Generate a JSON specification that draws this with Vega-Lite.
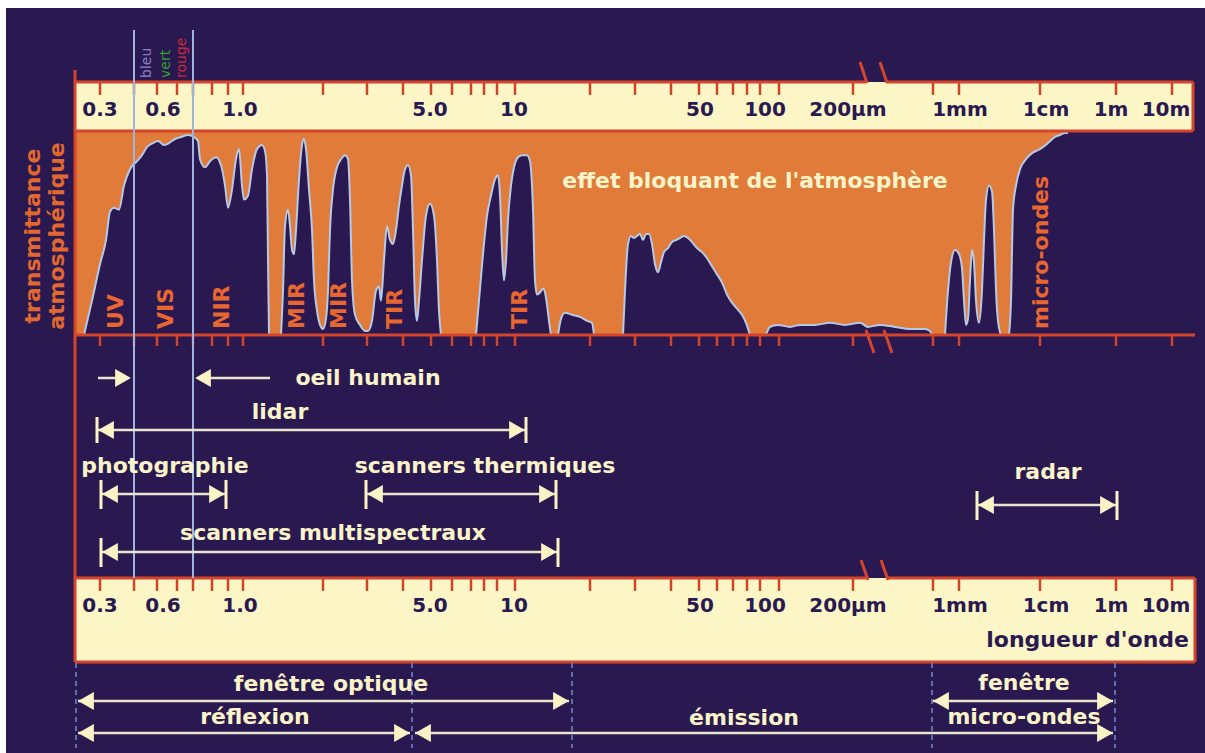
{
  "$schema": "https://vega.github.io/schema/vega-lite/v6.json",
  "width": 1205,
  "height": 753,
  "autosize": {"type": "fit", "contains": "padding"},
  "padding": 0,
  "background": "#ffffff",
  "config": {"view": {"stroke": null}},
  "resolve": {"scale": {"y": "independent"}},
  "datasets": {
    "fonds": [
      {"zone": "cadre", "pos": 6, "pos2": 1205, "h": 8, "h2": 753},
      {"zone": "barre", "pos": 75, "pos2": 1193, "h": 82, "h2": 131},
      {"zone": "bande", "pos": 75, "pos2": 1064, "h": 131, "h2": 335},
      {"zone": "barre", "pos": 75, "pos2": 1195, "h": 578, "h2": 662}
    ],
    "transmittance": [
      {"seg": 1, "pos": 84, "pct": 0}, {"seg": 1, "pos": 92, "pct": 17}, {"seg": 1, "pos": 100, "pct": 35}, {"seg": 1, "pos": 106, "pct": 47},
      {"seg": 1, "pos": 110, "pct": 61}, {"seg": 1, "pos": 114, "pct": 63}, {"seg": 1, "pos": 119, "pct": 62}, {"seg": 1, "pos": 124, "pct": 74},
      {"seg": 1, "pos": 130, "pct": 82}, {"seg": 1, "pos": 137, "pct": 86}, {"seg": 1, "pos": 142, "pct": 89}, {"seg": 1, "pos": 147, "pct": 93},
      {"seg": 1, "pos": 153, "pct": 95}, {"seg": 1, "pos": 158, "pct": 96}, {"seg": 1, "pos": 164, "pct": 94}, {"seg": 1, "pos": 169, "pct": 95},
      {"seg": 1, "pos": 175, "pct": 97}, {"seg": 1, "pos": 181, "pct": 98}, {"seg": 1, "pos": 188, "pct": 99}, {"seg": 1, "pos": 194, "pct": 98},
      {"seg": 1, "pos": 198, "pct": 96}, {"seg": 1, "pos": 200, "pct": 87}, {"seg": 1, "pos": 205, "pct": 83}, {"seg": 1, "pos": 210, "pct": 86},
      {"seg": 1, "pos": 216, "pct": 88}, {"seg": 1, "pos": 221, "pct": 84}, {"seg": 1, "pos": 225, "pct": 74}, {"seg": 1, "pos": 228, "pct": 63},
      {"seg": 1, "pos": 232, "pct": 72}, {"seg": 1, "pos": 236, "pct": 87}, {"seg": 1, "pos": 239, "pct": 92}, {"seg": 1, "pos": 242, "pct": 74},
      {"seg": 1, "pos": 244, "pct": 67}, {"seg": 1, "pos": 248, "pct": 69}, {"seg": 1, "pos": 252, "pct": 82}, {"seg": 1, "pos": 257, "pct": 92},
      {"seg": 1, "pos": 262, "pct": 94}, {"seg": 1, "pos": 265, "pct": 91}, {"seg": 1, "pos": 267, "pct": 79}, {"seg": 1, "pos": 268, "pct": 37},
      {"seg": 1, "pos": 269, "pct": 0},
      {"seg": 2, "pos": 281, "pct": 0}, {"seg": 2, "pos": 283, "pct": 22}, {"seg": 2, "pos": 285, "pct": 54}, {"seg": 2, "pos": 288, "pct": 62},
      {"seg": 2, "pos": 290, "pct": 54}, {"seg": 2, "pos": 292, "pct": 42}, {"seg": 2, "pos": 294, "pct": 40}, {"seg": 2, "pos": 296, "pct": 52},
      {"seg": 2, "pos": 299, "pct": 77}, {"seg": 2, "pos": 302, "pct": 94}, {"seg": 2, "pos": 304, "pct": 97}, {"seg": 2, "pos": 306, "pct": 92},
      {"seg": 2, "pos": 309, "pct": 72}, {"seg": 2, "pos": 312, "pct": 52}, {"seg": 2, "pos": 314, "pct": 27}, {"seg": 2, "pos": 317, "pct": 12},
      {"seg": 2, "pos": 320, "pct": 5}, {"seg": 2, "pos": 323, "pct": 3}, {"seg": 2, "pos": 326, "pct": 8}, {"seg": 2, "pos": 328, "pct": 22},
      {"seg": 2, "pos": 330, "pct": 52}, {"seg": 2, "pos": 333, "pct": 72}, {"seg": 2, "pos": 337, "pct": 83}, {"seg": 2, "pos": 341, "pct": 87},
      {"seg": 2, "pos": 345, "pct": 89}, {"seg": 2, "pos": 348, "pct": 87}, {"seg": 2, "pos": 350, "pct": 67}, {"seg": 2, "pos": 352, "pct": 27},
      {"seg": 2, "pos": 355, "pct": 10}, {"seg": 2, "pos": 360, "pct": 5}, {"seg": 2, "pos": 365, "pct": 2}, {"seg": 2, "pos": 368, "pct": 2},
      {"seg": 2, "pos": 372, "pct": 7}, {"seg": 2, "pos": 376, "pct": 22}, {"seg": 2, "pos": 379, "pct": 24}, {"seg": 2, "pos": 381, "pct": 17},
      {"seg": 2, "pos": 384, "pct": 37}, {"seg": 2, "pos": 387, "pct": 54}, {"seg": 2, "pos": 390, "pct": 47}, {"seg": 2, "pos": 393, "pct": 45},
      {"seg": 2, "pos": 396, "pct": 52}, {"seg": 2, "pos": 399, "pct": 64}, {"seg": 2, "pos": 402, "pct": 74}, {"seg": 2, "pos": 405, "pct": 82},
      {"seg": 2, "pos": 408, "pct": 84}, {"seg": 2, "pos": 411, "pct": 79}, {"seg": 2, "pos": 413, "pct": 52}, {"seg": 2, "pos": 415, "pct": 17},
      {"seg": 2, "pos": 417, "pct": 7}, {"seg": 2, "pos": 419, "pct": 17}, {"seg": 2, "pos": 422, "pct": 37}, {"seg": 2, "pos": 426, "pct": 59},
      {"seg": 2, "pos": 430, "pct": 65}, {"seg": 2, "pos": 434, "pct": 59}, {"seg": 2, "pos": 437, "pct": 37}, {"seg": 2, "pos": 439, "pct": 12},
      {"seg": 2, "pos": 441, "pct": 0},
      {"seg": 3, "pos": 476, "pct": 0}, {"seg": 3, "pos": 479, "pct": 17}, {"seg": 3, "pos": 483, "pct": 40}, {"seg": 3, "pos": 487, "pct": 59},
      {"seg": 3, "pos": 491, "pct": 69}, {"seg": 3, "pos": 495, "pct": 77}, {"seg": 3, "pos": 498, "pct": 79}, {"seg": 3, "pos": 500, "pct": 69},
      {"seg": 3, "pos": 502, "pct": 42}, {"seg": 3, "pos": 504, "pct": 27}, {"seg": 3, "pos": 506, "pct": 37}, {"seg": 3, "pos": 508, "pct": 57},
      {"seg": 3, "pos": 511, "pct": 74}, {"seg": 3, "pos": 514, "pct": 83}, {"seg": 3, "pos": 518, "pct": 88}, {"seg": 3, "pos": 522, "pct": 89},
      {"seg": 3, "pos": 527, "pct": 89}, {"seg": 3, "pos": 530, "pct": 86}, {"seg": 3, "pos": 533, "pct": 62}, {"seg": 3, "pos": 535, "pct": 27},
      {"seg": 3, "pos": 537, "pct": 20}, {"seg": 3, "pos": 540, "pct": 21}, {"seg": 3, "pos": 543, "pct": 23}, {"seg": 3, "pos": 545, "pct": 21},
      {"seg": 3, "pos": 547, "pct": 15}, {"seg": 3, "pos": 549, "pct": 7}, {"seg": 3, "pos": 551, "pct": 0},
      {"seg": 4, "pos": 558, "pct": 0}, {"seg": 4, "pos": 561, "pct": 8}, {"seg": 4, "pos": 565, "pct": 11}, {"seg": 4, "pos": 572, "pct": 10},
      {"seg": 4, "pos": 580, "pct": 9}, {"seg": 4, "pos": 587, "pct": 7}, {"seg": 4, "pos": 592, "pct": 6}, {"seg": 4, "pos": 594, "pct": 0},
      {"seg": 5, "pos": 623, "pct": 0}, {"seg": 5, "pos": 625, "pct": 22}, {"seg": 5, "pos": 628, "pct": 45}, {"seg": 5, "pos": 631, "pct": 49},
      {"seg": 5, "pos": 634, "pct": 48}, {"seg": 5, "pos": 637, "pct": 49}, {"seg": 5, "pos": 640, "pct": 50}, {"seg": 5, "pos": 643, "pct": 47},
      {"seg": 5, "pos": 646, "pct": 50}, {"seg": 5, "pos": 649, "pct": 50}, {"seg": 5, "pos": 652, "pct": 45}, {"seg": 5, "pos": 655, "pct": 35},
      {"seg": 5, "pos": 658, "pct": 31}, {"seg": 5, "pos": 661, "pct": 36}, {"seg": 5, "pos": 664, "pct": 41}, {"seg": 5, "pos": 668, "pct": 43},
      {"seg": 5, "pos": 672, "pct": 46}, {"seg": 5, "pos": 676, "pct": 47}, {"seg": 5, "pos": 680, "pct": 48}, {"seg": 5, "pos": 684, "pct": 49},
      {"seg": 5, "pos": 688, "pct": 48}, {"seg": 5, "pos": 692, "pct": 46}, {"seg": 5, "pos": 697, "pct": 43}, {"seg": 5, "pos": 702, "pct": 41},
      {"seg": 5, "pos": 707, "pct": 38}, {"seg": 5, "pos": 712, "pct": 34}, {"seg": 5, "pos": 717, "pct": 30}, {"seg": 5, "pos": 722, "pct": 26},
      {"seg": 5, "pos": 727, "pct": 20}, {"seg": 5, "pos": 732, "pct": 16}, {"seg": 5, "pos": 737, "pct": 13}, {"seg": 5, "pos": 742, "pct": 10},
      {"seg": 5, "pos": 746, "pct": 6}, {"seg": 5, "pos": 750, "pct": 0},
      {"seg": 6, "pos": 766, "pct": 0}, {"seg": 6, "pos": 770, "pct": 4}, {"seg": 6, "pos": 778, "pct": 5}, {"seg": 6, "pos": 790, "pct": 4},
      {"seg": 6, "pos": 800, "pct": 5}, {"seg": 6, "pos": 815, "pct": 5}, {"seg": 6, "pos": 830, "pct": 6}, {"seg": 6, "pos": 845, "pct": 5},
      {"seg": 6, "pos": 860, "pct": 6}, {"seg": 6, "pos": 868, "pct": 4}, {"seg": 6, "pos": 880, "pct": 5}, {"seg": 6, "pos": 895, "pct": 4},
      {"seg": 6, "pos": 910, "pct": 3}, {"seg": 6, "pos": 925, "pct": 3}, {"seg": 6, "pos": 930, "pct": 2}, {"seg": 6, "pos": 932, "pct": 0},
      {"seg": 7, "pos": 945, "pct": 0}, {"seg": 7, "pos": 948, "pct": 22}, {"seg": 7, "pos": 951, "pct": 36}, {"seg": 7, "pos": 955, "pct": 42},
      {"seg": 7, "pos": 959, "pct": 40}, {"seg": 7, "pos": 962, "pct": 33}, {"seg": 7, "pos": 964, "pct": 17}, {"seg": 7, "pos": 966, "pct": 5},
      {"seg": 7, "pos": 968, "pct": 8}, {"seg": 7, "pos": 970, "pct": 27}, {"seg": 7, "pos": 972, "pct": 42}, {"seg": 7, "pos": 974, "pct": 36},
      {"seg": 7, "pos": 976, "pct": 17}, {"seg": 7, "pos": 979, "pct": 6}, {"seg": 7, "pos": 982, "pct": 22}, {"seg": 7, "pos": 984, "pct": 47},
      {"seg": 7, "pos": 986, "pct": 67}, {"seg": 7, "pos": 989, "pct": 74}, {"seg": 7, "pos": 992, "pct": 71}, {"seg": 7, "pos": 994, "pct": 52},
      {"seg": 7, "pos": 996, "pct": 22}, {"seg": 7, "pos": 998, "pct": 7}, {"seg": 7, "pos": 1001, "pct": 0},
      {"seg": 8, "pos": 1009, "pct": 0}, {"seg": 8, "pos": 1011, "pct": 17}, {"seg": 8, "pos": 1013, "pct": 62}, {"seg": 8, "pos": 1016, "pct": 74},
      {"seg": 8, "pos": 1020, "pct": 82}, {"seg": 8, "pos": 1026, "pct": 87}, {"seg": 8, "pos": 1032, "pct": 90}, {"seg": 8, "pos": 1040, "pct": 92},
      {"seg": 8, "pos": 1048, "pct": 95}, {"seg": 8, "pos": 1055, "pct": 98}, {"seg": 8, "pos": 1060, "pct": 99}, {"seg": 8, "pos": 1065, "pct": 100},
      {"seg": 8, "pos": 1068, "pct": 100}
    ],
    "traits": [
      {"type": "bord", "pos": 75, "pos2": 866, "h": 82, "h2": 82},
      {"type": "bord", "pos": 887, "pos2": 1193, "h": 82, "h2": 82},
      {"type": "bord", "pos": 75, "pos2": 1193, "h": 131, "h2": 131},
      {"type": "bord", "pos": 1193, "pos2": 1193, "h": 82, "h2": 131},
      {"type": "bord", "pos": 75, "pos2": 75, "h": 70, "h2": 662},
      {"type": "bord", "pos": 75, "pos2": 1195, "h": 335, "h2": 335},
      {"type": "bord", "pos": 75, "pos2": 866, "h": 578, "h2": 578},
      {"type": "bord", "pos": 887, "pos2": 1195, "h": 578, "h2": 578},
      {"type": "bord", "pos": 75, "pos2": 1195, "h": 662, "h2": 662},
      {"type": "bord", "pos": 1195, "pos2": 1195, "h": 578, "h2": 662},
      {"type": "coupure", "pos": 860, "pos2": 867, "h": 62, "h2": 83},
      {"type": "coupure", "pos": 880, "pos2": 887, "h": 62, "h2": 83},
      {"type": "coupure", "pos": 866, "pos2": 874, "h": 330, "h2": 353},
      {"type": "coupure", "pos": 884, "pos2": 892, "h": 330, "h2": 353},
      {"type": "coupure", "pos": 861, "pos2": 868, "h": 560, "h2": 580},
      {"type": "coupure", "pos": 881, "pos2": 888, "h": 560, "h2": 580}
    ],
    "graduations": [
      {"pos": 100}, {"pos": 134}, {"pos": 157}, {"pos": 177}, {"pos": 193}, {"pos": 212}, {"pos": 228}, {"pos": 243},
      {"pos": 323}, {"pos": 367}, {"pos": 403}, {"pos": 431}, {"pos": 452}, {"pos": 471}, {"pos": 484}, {"pos": 497},
      {"pos": 515}, {"pos": 590}, {"pos": 635}, {"pos": 671}, {"pos": 699}, {"pos": 717}, {"pos": 733}, {"pos": 747},
      {"pos": 760}, {"pos": 779}, {"pos": 853}, {"pos": 933}, {"pos": 959}, {"pos": 1040}, {"pos": 1116}, {"pos": 1172}
    ],
    "reperes": [
      {"type": "visible", "pos": 134, "h": 30, "h2": 578},
      {"type": "visible", "pos": 193, "h": 30, "h2": 578},
      {"type": "fenetre", "pos": 76, "h": 663, "h2": 748},
      {"type": "fenetre", "pos": 412, "h": 663, "h2": 748},
      {"type": "fenetre", "pos": 572, "h": 663, "h2": 748},
      {"type": "fenetre", "pos": 932, "h": 663, "h2": 748},
      {"type": "fenetre", "pos": 1115, "h": 663, "h2": 748}
    ],
    "fleches": [
      {"partie": "tige", "pos": 98, "pos2": 124, "h": 378, "h2": 378},
      {"partie": "tige", "pos": 200, "pos2": 270, "h": 378, "h2": 378},
      {"partie": "tige", "pos": 97, "pos2": 526, "h": 430, "h2": 430},
      {"partie": "tige", "pos": 101, "pos2": 226, "h": 494, "h2": 494},
      {"partie": "tige", "pos": 366, "pos2": 556, "h": 494, "h2": 494},
      {"partie": "tige", "pos": 101, "pos2": 558, "h": 552, "h2": 552},
      {"partie": "tige", "pos": 977, "pos2": 1117, "h": 505, "h2": 505},
      {"partie": "tige", "pos": 78, "pos2": 569, "h": 701, "h2": 701},
      {"partie": "tige", "pos": 78, "pos2": 410, "h": 733, "h2": 733},
      {"partie": "tige", "pos": 415, "pos2": 1113, "h": 733, "h2": 733},
      {"partie": "tige", "pos": 933, "pos2": 1113, "h": 701, "h2": 701},
      {"partie": "barre", "pos": 97, "pos2": 97, "h": 417, "h2": 443},
      {"partie": "barre", "pos": 526, "pos2": 526, "h": 417, "h2": 443},
      {"partie": "barre", "pos": 101, "pos2": 101, "h": 480, "h2": 509},
      {"partie": "barre", "pos": 226, "pos2": 226, "h": 480, "h2": 509},
      {"partie": "barre", "pos": 366, "pos2": 366, "h": 480, "h2": 509},
      {"partie": "barre", "pos": 556, "pos2": 556, "h": 480, "h2": 509},
      {"partie": "barre", "pos": 101, "pos2": 101, "h": 538, "h2": 567},
      {"partie": "barre", "pos": 558, "pos2": 558, "h": 538, "h2": 567},
      {"partie": "barre", "pos": 977, "pos2": 977, "h": 491, "h2": 520},
      {"partie": "barre", "pos": 1117, "pos2": 1117, "h": 491, "h2": 520},
      {"partie": "droite", "pos": 131, "h": 378},
      {"partie": "droite", "pos": 525, "h": 430},
      {"partie": "droite", "pos": 225, "h": 494},
      {"partie": "droite", "pos": 555, "h": 494},
      {"partie": "droite", "pos": 557, "h": 552},
      {"partie": "droite", "pos": 1116, "h": 505},
      {"partie": "droite", "pos": 569, "h": 701},
      {"partie": "droite", "pos": 410, "h": 733},
      {"partie": "droite", "pos": 1113, "h": 733},
      {"partie": "droite", "pos": 1113, "h": 701},
      {"partie": "gauche", "pos": 195, "h": 378},
      {"partie": "gauche", "pos": 98, "h": 430},
      {"partie": "gauche", "pos": 102, "h": 494},
      {"partie": "gauche", "pos": 367, "h": 494},
      {"partie": "gauche", "pos": 102, "h": 552},
      {"partie": "gauche", "pos": 978, "h": 505},
      {"partie": "gauche", "pos": 78, "h": 701},
      {"partie": "gauche", "pos": 78, "h": 733},
      {"partie": "gauche", "pos": 415, "h": 733},
      {"partie": "gauche", "pos": 933, "h": 701}
    ],
    "textes": [
      {"g": "echelle", "texte": "0.3", "pos": 100, "h": 110},
      {"g": "echelle", "texte": "0.6", "pos": 163, "h": 110},
      {"g": "echelle", "texte": "1.0", "pos": 240, "h": 110},
      {"g": "echelle", "texte": "5.0", "pos": 430, "h": 110},
      {"g": "echelle", "texte": "10", "pos": 514, "h": 110},
      {"g": "echelle", "texte": "50", "pos": 700, "h": 110},
      {"g": "echelle", "texte": "100", "pos": 765, "h": 110},
      {"g": "echelle", "texte": "200µm", "pos": 848, "h": 110},
      {"g": "echelle", "texte": "1mm", "pos": 960, "h": 110},
      {"g": "echelle", "texte": "1cm", "pos": 1046, "h": 110},
      {"g": "echelle", "texte": "1m", "pos": 1111, "h": 110},
      {"g": "echelle", "texte": "10m", "pos": 1166, "h": 110},
      {"g": "echelle", "texte": "0.3", "pos": 100, "h": 606},
      {"g": "echelle", "texte": "0.6", "pos": 163, "h": 606},
      {"g": "echelle", "texte": "1.0", "pos": 240, "h": 606},
      {"g": "echelle", "texte": "5.0", "pos": 430, "h": 606},
      {"g": "echelle", "texte": "10", "pos": 514, "h": 606},
      {"g": "echelle", "texte": "50", "pos": 700, "h": 606},
      {"g": "echelle", "texte": "100", "pos": 765, "h": 606},
      {"g": "echelle", "texte": "200µm", "pos": 848, "h": 606},
      {"g": "echelle", "texte": "1mm", "pos": 960, "h": 606},
      {"g": "echelle", "texte": "1cm", "pos": 1046, "h": 606},
      {"g": "echelle", "texte": "1m", "pos": 1111, "h": 606},
      {"g": "echelle", "texte": "10m", "pos": 1166, "h": 606},
      {"g": "unite", "texte": "longueur d'onde", "pos": 1189, "h": 640},
      {"g": "titre", "texte": "effet bloquant de l'atmosphère", "pos": 755, "h": 181},
      {"g": "titre", "texte": "oeil humain", "pos": 368, "h": 378},
      {"g": "titre", "texte": "lidar", "pos": 280, "h": 412},
      {"g": "titre", "texte": "photographie", "pos": 165, "h": 466},
      {"g": "titre", "texte": "scanners thermiques", "pos": 485, "h": 466},
      {"g": "titre", "texte": "scanners multispectraux", "pos": 333, "h": 533},
      {"g": "titre", "texte": "radar", "pos": 1048, "h": 472},
      {"g": "titre", "texte": "fenêtre optique", "pos": 331, "h": 684},
      {"g": "titre", "texte": "réflexion", "pos": 255, "h": 717},
      {"g": "titre", "texte": "émission", "pos": 744, "h": 718},
      {"g": "titre", "texte": "fenêtre", "pos": 1024, "h": 683},
      {"g": "titre", "texte": "micro-ondes", "pos": 1024, "h": 717},
      {"g": "bande", "texte": "UV", "pos": 116, "h": 329},
      {"g": "bande", "texte": "VIS", "pos": 166, "h": 329},
      {"g": "bande", "texte": "NIR", "pos": 222, "h": 329},
      {"g": "bande", "texte": "MIR", "pos": 297, "h": 329},
      {"g": "bande", "texte": "MIR", "pos": 339, "h": 329},
      {"g": "bande", "texte": "TIR", "pos": 395, "h": 329},
      {"g": "bande", "texte": "TIR", "pos": 520, "h": 329},
      {"g": "bande", "texte": "micro-ondes", "pos": 1041, "h": 329},
      {"g": "axe", "texte": "transmittance", "pos": 33, "h": 236},
      {"g": "axe", "texte": "atmosphérique", "pos": 57, "h": 236},
      {"g": "bleu", "texte": "bleu", "pos": 147, "h": 78},
      {"g": "vert", "texte": "vert", "pos": 166, "h": 78},
      {"g": "rouge", "texte": "rouge", "pos": 182, "h": 78}
    ]
  },
  "layer": [
    {
      "data": {"name": "fonds"},
      "mark": {"type": "rect"},
      "encoding": {
        "x": {"field": "pos", "type": "quantitative", "scale": {"domain": [0, 1205], "nice": false, "zero": false}, "axis": null},
        "x2": {"field": "pos2"},
        "y": {"field": "h", "type": "quantitative", "scale": {"domain": [0, 753], "reverse": true, "nice": false, "zero": false}, "axis": null},
        "y2": {"field": "h2"},
        "color": {"field": "zone", "type": "nominal", "scale": {"domain": ["cadre", "barre", "bande"], "range": ["#2a1850", "#fcf6c6", "#e07b3a"]}, "legend": null}
      }
    },
    {
      "data": {"name": "transmittance"},
      "mark": {"type": "area", "color": "#2a1850", "interpolate": "monotone", "opacity": 1},
      "encoding": {
        "x": {"field": "pos", "type": "quantitative", "scale": {"domain": [0, 1205], "nice": false, "zero": false}, "axis": null},
        "y": {"field": "pct", "type": "quantitative", "scale": {"domain": [-206.9, 165.8], "nice": false, "zero": false}, "axis": null},
        "y2": {"datum": 0},
        "detail": {"field": "seg", "type": "nominal"}
      }
    },
    {
      "data": {"name": "transmittance"},
      "mark": {"type": "line", "color": "#b5c9e9", "strokeWidth": 2, "interpolate": "monotone"},
      "encoding": {
        "x": {"field": "pos", "type": "quantitative", "scale": {"domain": [0, 1205], "nice": false, "zero": false}, "axis": null},
        "y": {"field": "pct", "type": "quantitative", "scale": {"domain": [-206.9, 165.8], "nice": false, "zero": false}, "axis": null},
        "detail": {"field": "seg", "type": "nominal"}
      }
    },
    {
      "data": {"name": "traits"},
      "mark": {"type": "rule", "color": "#d5452b", "strokeWidth": 3},
      "encoding": {
        "x": {"field": "pos", "type": "quantitative", "scale": {"domain": [0, 1205], "nice": false, "zero": false}, "axis": null},
        "x2": {"field": "pos2"},
        "y": {"field": "h", "type": "quantitative", "scale": {"domain": [0, 753], "reverse": true, "nice": false, "zero": false}, "axis": null},
        "y2": {"field": "h2"}
      }
    },
    {
      "data": {"name": "graduations"},
      "mark": {"type": "rule", "color": "#d0442a", "strokeWidth": 2.5},
      "encoding": {
        "x": {"field": "pos", "type": "quantitative", "scale": {"domain": [0, 1205], "nice": false, "zero": false}, "axis": null},
        "y": {"datum": 83, "type": "quantitative", "scale": {"domain": [0, 753], "reverse": true, "nice": false, "zero": false}, "axis": null},
        "y2": {"datum": 95}
      }
    },
    {
      "data": {"name": "graduations"},
      "mark": {"type": "rule", "color": "#d0442a", "strokeWidth": 2.5},
      "encoding": {
        "x": {"field": "pos", "type": "quantitative", "scale": {"domain": [0, 1205], "nice": false, "zero": false}, "axis": null},
        "y": {"datum": 335, "type": "quantitative", "scale": {"domain": [0, 753], "reverse": true, "nice": false, "zero": false}, "axis": null},
        "y2": {"datum": 346}
      }
    },
    {
      "data": {"name": "graduations"},
      "mark": {"type": "rule", "color": "#d0442a", "strokeWidth": 2.5},
      "encoding": {
        "x": {"field": "pos", "type": "quantitative", "scale": {"domain": [0, 1205], "nice": false, "zero": false}, "axis": null},
        "y": {"datum": 579, "type": "quantitative", "scale": {"domain": [0, 753], "reverse": true, "nice": false, "zero": false}, "axis": null},
        "y2": {"datum": 591}
      }
    },
    {
      "data": {"name": "reperes"},
      "transform": [{"filter": "datum.type == 'visible'"}],
      "mark": {"type": "rule", "color": "#9fb4de", "strokeWidth": 2},
      "encoding": {
        "x": {"field": "pos", "type": "quantitative", "scale": {"domain": [0, 1205], "nice": false, "zero": false}, "axis": null},
        "y": {"field": "h", "type": "quantitative", "scale": {"domain": [0, 753], "reverse": true, "nice": false, "zero": false}, "axis": null},
        "y2": {"field": "h2"}
      }
    },
    {
      "data": {"name": "reperes"},
      "transform": [{"filter": "datum.type == 'fenetre'"}],
      "mark": {"type": "rule", "color": "#6d8dd2", "strokeWidth": 1.5, "strokeDash": [5, 4]},
      "encoding": {
        "x": {"field": "pos", "type": "quantitative", "scale": {"domain": [0, 1205], "nice": false, "zero": false}, "axis": null},
        "y": {"field": "h", "type": "quantitative", "scale": {"domain": [0, 753], "reverse": true, "nice": false, "zero": false}, "axis": null},
        "y2": {"field": "h2"}
      }
    },
    {
      "data": {"name": "fleches"},
      "transform": [{"filter": "datum.partie == 'tige'"}],
      "mark": {"type": "rule", "color": "#e9e4cc", "strokeWidth": 2.5},
      "encoding": {
        "x": {"field": "pos", "type": "quantitative", "scale": {"domain": [0, 1205], "nice": false, "zero": false}, "axis": null},
        "x2": {"field": "pos2"},
        "y": {"field": "h", "type": "quantitative", "scale": {"domain": [0, 753], "reverse": true, "nice": false, "zero": false}, "axis": null},
        "y2": {"field": "h2"}
      }
    },
    {
      "data": {"name": "fleches"},
      "transform": [{"filter": "datum.partie == 'barre'"}],
      "mark": {"type": "rule", "color": "#fbf3c6", "strokeWidth": 3},
      "encoding": {
        "x": {"field": "pos", "type": "quantitative", "scale": {"domain": [0, 1205], "nice": false, "zero": false}, "axis": null},
        "y": {"field": "h", "type": "quantitative", "scale": {"domain": [0, 753], "reverse": true, "nice": false, "zero": false}, "axis": null},
        "y2": {"field": "h2"}
      }
    },
    {
      "data": {"name": "fleches"},
      "transform": [{"filter": "datum.partie == 'droite'"}],
      "mark": {"type": "point", "shape": "triangle-right", "filled": true, "opacity": 1, "color": "#fbf3c6", "size": 330, "xOffset": -8},
      "encoding": {
        "x": {"field": "pos", "type": "quantitative", "scale": {"domain": [0, 1205], "nice": false, "zero": false}, "axis": null},
        "y": {"field": "h", "type": "quantitative", "scale": {"domain": [0, 753], "reverse": true, "nice": false, "zero": false}, "axis": null}
      }
    },
    {
      "data": {"name": "fleches"},
      "transform": [{"filter": "datum.partie == 'gauche'"}],
      "mark": {"type": "point", "shape": "triangle-left", "filled": true, "opacity": 1, "color": "#fbf3c6", "size": 330, "xOffset": 8},
      "encoding": {
        "x": {"field": "pos", "type": "quantitative", "scale": {"domain": [0, 1205], "nice": false, "zero": false}, "axis": null},
        "y": {"field": "h", "type": "quantitative", "scale": {"domain": [0, 753], "reverse": true, "nice": false, "zero": false}, "axis": null}
      }
    },
    {
      "data": {"name": "textes"},
      "transform": [{"filter": "datum.g == 'echelle'"}],
      "mark": {"type": "text", "font": "DejaVu Sans", "fontWeight": "bold", "fontSize": 20, "color": "#2a1850", "align": "center", "baseline": "middle"},
      "encoding": {
        "x": {"field": "pos", "type": "quantitative", "scale": {"domain": [0, 1205], "nice": false, "zero": false}, "axis": null},
        "y": {"field": "h", "type": "quantitative", "scale": {"domain": [0, 753], "reverse": true, "nice": false, "zero": false}, "axis": null},
        "text": {"field": "texte"}
      }
    },
    {
      "data": {"name": "textes"},
      "transform": [{"filter": "datum.g == 'unite'"}],
      "mark": {"type": "text", "font": "DejaVu Sans", "fontWeight": "bold", "fontSize": 22, "color": "#2a1850", "align": "right", "baseline": "middle"},
      "encoding": {
        "x": {"field": "pos", "type": "quantitative", "scale": {"domain": [0, 1205], "nice": false, "zero": false}, "axis": null},
        "y": {"field": "h", "type": "quantitative", "scale": {"domain": [0, 753], "reverse": true, "nice": false, "zero": false}, "axis": null},
        "text": {"field": "texte"}
      }
    },
    {
      "data": {"name": "textes"},
      "transform": [{"filter": "datum.g == 'titre'"}],
      "mark": {"type": "text", "font": "DejaVu Sans", "fontWeight": "bold", "fontSize": 22, "color": "#fbf4c8", "align": "center", "baseline": "middle"},
      "encoding": {
        "x": {"field": "pos", "type": "quantitative", "scale": {"domain": [0, 1205], "nice": false, "zero": false}, "axis": null},
        "y": {"field": "h", "type": "quantitative", "scale": {"domain": [0, 753], "reverse": true, "nice": false, "zero": false}, "axis": null},
        "text": {"field": "texte"}
      }
    },
    {
      "data": {"name": "textes"},
      "transform": [{"filter": "datum.g == 'bande'"}],
      "mark": {"type": "text", "font": "DejaVu Sans", "fontWeight": "bold", "fontSize": 22, "color": "#e8662f", "align": "left", "baseline": "middle", "angle": 270},
      "encoding": {
        "x": {"field": "pos", "type": "quantitative", "scale": {"domain": [0, 1205], "nice": false, "zero": false}, "axis": null},
        "y": {"field": "h", "type": "quantitative", "scale": {"domain": [0, 753], "reverse": true, "nice": false, "zero": false}, "axis": null},
        "text": {"field": "texte"}
      }
    },
    {
      "data": {"name": "textes"},
      "transform": [{"filter": "datum.g == 'axe'"}],
      "mark": {"type": "text", "font": "DejaVu Sans", "fontWeight": "bold", "fontSize": 22, "color": "#e2682f", "align": "center", "baseline": "middle", "angle": 270},
      "encoding": {
        "x": {"field": "pos", "type": "quantitative", "scale": {"domain": [0, 1205], "nice": false, "zero": false}, "axis": null},
        "y": {"field": "h", "type": "quantitative", "scale": {"domain": [0, 753], "reverse": true, "nice": false, "zero": false}, "axis": null},
        "text": {"field": "texte"}
      }
    },
    {
      "data": {"name": "textes"},
      "transform": [{"filter": "datum.g == 'bleu'"}],
      "mark": {"type": "text", "font": "DejaVu Sans", "fontSize": 14, "color": "#8884c2", "align": "left", "baseline": "middle", "angle": 270},
      "encoding": {
        "x": {"field": "pos", "type": "quantitative", "scale": {"domain": [0, 1205], "nice": false, "zero": false}, "axis": null},
        "y": {"field": "h", "type": "quantitative", "scale": {"domain": [0, 753], "reverse": true, "nice": false, "zero": false}, "axis": null},
        "text": {"field": "texte"}
      }
    },
    {
      "data": {"name": "textes"},
      "transform": [{"filter": "datum.g == 'vert'"}],
      "mark": {"type": "text", "font": "DejaVu Sans", "fontSize": 14, "color": "#33a02c", "align": "left", "baseline": "middle", "angle": 270},
      "encoding": {
        "x": {"field": "pos", "type": "quantitative", "scale": {"domain": [0, 1205], "nice": false, "zero": false}, "axis": null},
        "y": {"field": "h", "type": "quantitative", "scale": {"domain": [0, 753], "reverse": true, "nice": false, "zero": false}, "axis": null},
        "text": {"field": "texte"}
      }
    },
    {
      "data": {"name": "textes"},
      "transform": [{"filter": "datum.g == 'rouge'"}],
      "mark": {"type": "text", "font": "DejaVu Sans", "fontSize": 14, "color": "#c82a3e", "align": "left", "baseline": "middle", "angle": 270},
      "encoding": {
        "x": {"field": "pos", "type": "quantitative", "scale": {"domain": [0, 1205], "nice": false, "zero": false}, "axis": null},
        "y": {"field": "h", "type": "quantitative", "scale": {"domain": [0, 753], "reverse": true, "nice": false, "zero": false}, "axis": null},
        "text": {"field": "texte"}
      }
    }
  ]
}
